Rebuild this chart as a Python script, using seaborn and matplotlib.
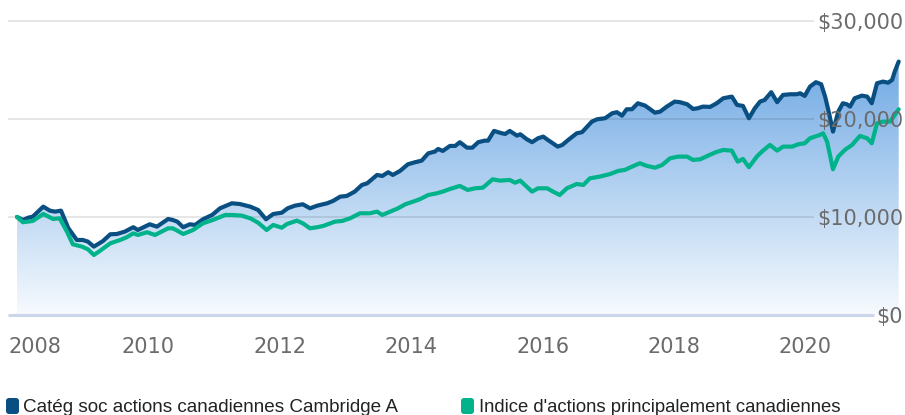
import numpy as np
import matplotlib
matplotlib.use("Agg")
import matplotlib.pyplot as plt
import seaborn as sns
from matplotlib import transforms
from matplotlib.patches import FancyBboxPatch

# Growth of $10,000 (decimal years)
fund_years = [2008.00, 2008.09, 2008.17, 2008.24, 2008.40, 2008.50, 2008.58, 2008.67, 2008.78, 2008.91,
              2009.00, 2009.08, 2009.17, 2009.31, 2009.42, 2009.52, 2009.64, 2009.77, 2009.84, 2010.02,
              2010.13, 2010.30, 2010.37, 2010.44, 2010.53, 2010.63, 2010.71, 2010.83, 2010.97, 2011.09,
              2011.27, 2011.39, 2011.55, 2011.67, 2011.79, 2011.90, 2012.03, 2012.12, 2012.23, 2012.35,
              2012.46, 2012.57, 2012.72, 2012.81, 2012.92, 2013.02, 2013.14, 2013.25, 2013.33, 2013.48,
              2013.56, 2013.65, 2013.72, 2013.83, 2013.95, 2014.06, 2014.16, 2014.26, 2014.36, 2014.41,
              2014.48, 2014.59, 2014.67, 2014.74, 2014.85, 2014.93, 2015.02, 2015.12, 2015.17, 2015.26,
              2015.38, 2015.43, 2015.50, 2015.61, 2015.66, 2015.76, 2015.84, 2015.93, 2016.01, 2016.08,
              2016.23, 2016.30, 2016.39, 2016.52, 2016.60, 2016.75, 2016.83, 2016.95, 2017.06, 2017.13,
              2017.21, 2017.28, 2017.36, 2017.45, 2017.56, 2017.71, 2017.79, 2017.89, 2018.01, 2018.09,
              2018.20, 2018.29, 2018.36, 2018.44, 2018.55, 2018.65, 2018.75, 2018.88, 2018.96, 2019.05,
              2019.14, 2019.23, 2019.31, 2019.38, 2019.48, 2019.57, 2019.66, 2019.77, 2019.87, 2019.92,
              2019.99, 2020.07, 2020.16, 2020.24, 2020.30, 2020.36, 2020.42, 2020.50, 2020.57, 2020.63,
              2020.68, 2020.75, 2020.86, 2020.94, 2021.01, 2021.09, 2021.18, 2021.26, 2021.32, 2021.36,
              2021.42]
fund_values = [10000, 9690, 9920, 10030, 11050, 10640, 10540, 10640, 8870, 7650,
               7650, 7480, 6970, 7550, 8230, 8260, 8500, 8950, 8670, 9250,
               9010, 9790, 9690, 9520, 8950, 9250, 9180, 9760, 10200, 10880,
               11390, 11320, 11050, 10710, 9760, 10300, 10430, 10880, 11150, 11290,
               10880, 11150, 11390, 11630, 12070, 12140, 12580, 13260, 13430, 14280,
               14180, 14560, 14280, 14690, 15370, 15580, 15740, 16490, 16660, 16930,
               16730, 17240, 17240, 17620, 17060, 17060, 17620, 17780, 17780, 18770,
               18530, 18460, 18770, 18290, 18430, 17920, 17620, 18020, 18190, 17850,
               17170, 17340, 17850, 18530, 18640, 19720, 19960, 20060, 20570, 20680,
               20330, 20980, 20980, 21590, 21350, 20630, 20740, 21250, 21760, 21700,
               21490, 21010, 21080, 21250, 21220, 21590, 22100, 22270, 21420, 21320,
               20060, 21080, 21760, 21930, 22720, 21700, 22440, 22510, 22510, 22610,
               22340, 23290, 23740, 23530, 22270, 20570, 18700, 20740, 21590, 21490,
               21250, 22100, 22370, 22270, 21590, 23630, 23800, 23690, 23970, 24820,
               25840]

index_years = [2008.00, 2008.09, 2008.24, 2008.40, 2008.55, 2008.65, 2008.76, 2008.85, 2008.99, 2009.08,
               2009.17, 2009.26, 2009.42, 2009.57, 2009.67, 2009.77, 2009.84, 2009.98, 2010.10, 2010.30,
               2010.37, 2010.44, 2010.53, 2010.68, 2010.83, 2010.98, 2011.17, 2011.27, 2011.42, 2011.55,
               2011.67, 2011.80, 2011.90, 2012.03, 2012.11, 2012.26, 2012.35, 2012.46, 2012.57, 2012.66,
               2012.84, 2012.95, 2013.07, 2013.22, 2013.37, 2013.48, 2013.56, 2013.68, 2013.80, 2013.91,
               2014.03, 2014.13, 2014.26, 2014.39, 2014.48, 2014.59, 2014.74, 2014.86, 2014.97, 2015.09,
               2015.24, 2015.35, 2015.50, 2015.58, 2015.66, 2015.84, 2015.93, 2016.07, 2016.16, 2016.26,
               2016.37, 2016.52, 2016.62, 2016.72, 2016.87, 2017.03, 2017.15, 2017.25, 2017.36, 2017.48,
               2017.59, 2017.71, 2017.82, 2017.94, 2018.06, 2018.20, 2018.29, 2018.40, 2018.55, 2018.65,
               2018.75, 2018.88, 2018.97, 2019.05, 2019.14, 2019.26, 2019.35, 2019.46, 2019.57, 2019.66,
               2019.80, 2019.89, 2019.99, 2020.07, 2020.22, 2020.27, 2020.33, 2020.42, 2020.50, 2020.60,
               2020.71, 2020.83, 2020.94, 2021.01, 2021.09, 2021.18, 2021.29, 2021.36, 2021.42]
index_values = [10000, 9460, 9590, 10300, 9790, 9860, 8500, 7210, 6970, 6700,
                6120, 6530, 7310, 7650, 7930, 8330, 8160, 8440, 8160, 8840,
                8840, 8600, 8260, 8670, 9350, 9690, 10200, 10200, 10130, 9860,
                9410, 8670, 9180, 8900, 9280, 9620, 9350, 8840, 8950, 9080,
                9520, 9590, 9860, 10370, 10370, 10540, 10200, 10540, 10880, 11290,
                11560, 11800, 12240, 12410, 12580, 12850, 13160, 12750, 12920, 12980,
                13840, 13700, 13770, 13490, 13700, 12580, 12920, 12920, 12580, 12240,
                12920, 13360, 13260, 13940, 14110, 14380, 14690, 14790, 15130, 15470,
                15200, 15020, 15300, 15980, 16150, 16150, 15810, 15880, 16350, 16630,
                16830, 16760, 15640, 15910, 15070, 16150, 16730, 17340, 16760, 17170,
                17170, 17410, 17510, 18020, 18360, 18530, 17680, 14860, 16150, 16830,
                17340, 18260, 18020, 17510, 19550, 19720, 19720, 20400, 20980]

fund_name = "Catég soc actions canadiennes Cambridge A"
index_name = "Indice d'actions principalement canadiennes"
year_ticks = [2008, 2010, 2012, 2014, 2016, 2018, 2020]
value_ticks = [0, 10000, 20000, 30000]

FUND_COLOR = "#0a4f82"
INDEX_COLOR = "#00b38a"
AXIS_COLOR = "#ccd6eb"
TEXT_COLOR = "#6b6b6b"

sns.set_style("white")
plt.rcParams["font.family"] = ["DejaVu Sans"]

W, H = 905, 415
fig = plt.figure(figsize=(W / 100, H / 100), dpi=100)
ax = fig.add_axes([8 / W, 1 - 315 / H, 895 / W, 305 / H])

PX_PER_YEAR = 65.7
X_MIN = 2008 - 9 / PX_PER_YEAR
X_MAX = 2008 + 886 / PX_PER_YEAR
Y_MAX = 31100

# Gradient area under the fund line
area = ax.fill_between(fund_years, fund_values, 0, facecolor="none", edgecolor="none")
levels = np.linspace(0, Y_MAX, 500)
base = np.array([247, 250, 254], dtype=float)
slope = np.array([-52, -31, -10], dtype=float) / 10000
rgb = np.clip(base + np.outer(levels, slope), 0, 255) / 255
img = ax.imshow(rgb[:, None, :], extent=[X_MIN, X_MAX, 0, Y_MAX], origin="lower",
                aspect="auto", interpolation="bilinear", zorder=1)
img.set_clip_path(area.get_paths()[0], transform=ax.transData)

sns.lineplot(x=fund_years, y=fund_values, ax=ax, color=FUND_COLOR, lw=3.0,
             errorbar=None, zorder=4)
sns.lineplot(x=index_years, y=index_values, ax=ax, color=INDEX_COLOR, lw=3.0,
             errorbar=None, zorder=5)

ax.set_xlim(X_MIN, X_MAX)
ax.set_ylim(0, Y_MAX)
ax.set_xlabel("")
ax.set_ylabel("")
for s in ax.spines.values():
    s.set_visible(False)
ax.set_yticks([])
ax.set_xticks(year_ticks)
ax.set_xticklabels([])
ax.tick_params(axis="x", length=9.5, width=1.4, color=AXIS_COLOR, direction="out")
ax.set_facecolor("none")

# Year labels below the axis; the first one is kept inside the figure
for i, yr in enumerate(year_ticks):
    if i == 0:
        ax.text(0.0, -30 / 305, str(yr), transform=ax.transAxes, ha="left",
                va="center_baseline", fontsize=15, color=TEXT_COLOR)
    else:
        ax.text(yr, -30 / 305, str(yr), transform=ax.get_xaxis_transform(), ha="center",
                va="center_baseline", fontsize=15, color=TEXT_COLOR)

# Value labels inside the plot, right aligned; grid lines stop before them
value_labels = []
for v in value_ticks:
    t = ax.text(1.0, v, f"${v:,}", transform=ax.get_yaxis_transform(), ha="right",
                va="center_baseline", fontsize=15, color=TEXT_COLOR, zorder=6)
    value_labels.append((v, t))

fig.canvas.draw()
renderer = fig.canvas.get_renderer()
inv = ax.transData.inverted()
for v, t in value_labels:
    bb = t.get_window_extent(renderer)
    x_end = inv.transform((bb.x0 - 3, 0))[0]
    if v == 0:
        ax.plot([X_MIN, x_end], [0, 0], color=AXIS_COLOR, lw=2.2, zorder=3,
                solid_capstyle="butt", clip_on=False)
    else:
        ax.plot([X_MIN, x_end], [v, v], color="black", alpha=0.1, lw=1.4, zorder=2,
                solid_capstyle="butt")

# Legend row
ident = transforms.IdentityTransform()
legend_items = [(fund_name, FUND_COLOR, 6, 23, 377), (index_name, INDEX_COLOR, 461, 479, 364)]
for name, color, mx, tx, target_w in legend_items:
    fig.add_artist(FancyBboxPatch((mx, 1), 13, 16, boxstyle="round,pad=0,rounding_size=3",
                                  transform=ident, facecolor=color, edgecolor="none"))
    t = fig.text(tx / W, 8 / H, name, ha="left", va="center", fontsize=10,
                 family=["Liberation Sans", "DejaVu Sans"], color="#222222")
    w = t.get_window_extent(renderer).width
    t.set_fontsize(10 * target_w / w)

fig.savefig("out.png", dpi=100)
